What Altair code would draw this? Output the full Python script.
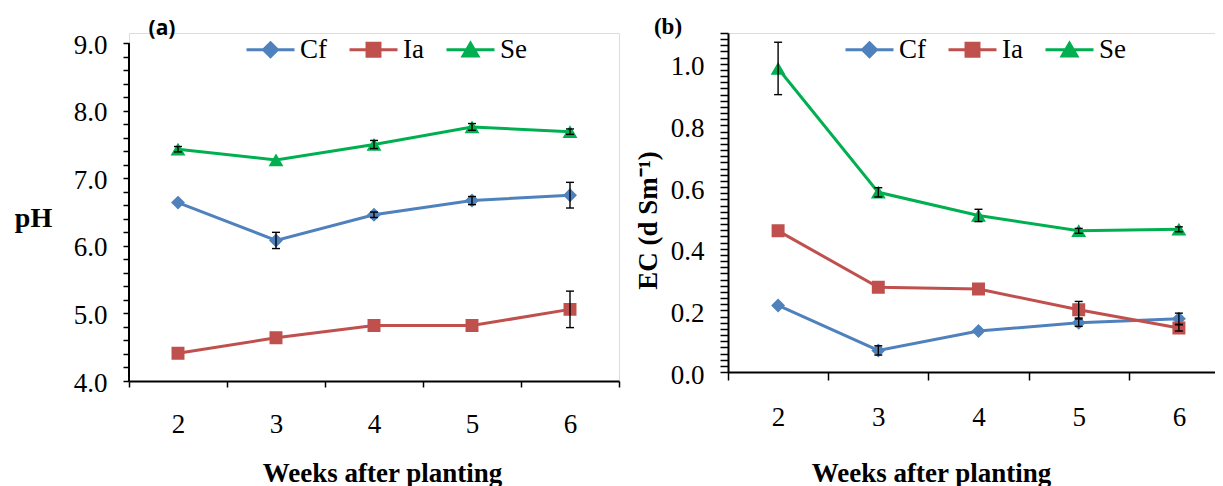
import altair as alt
import pandas as pd

weeks = [2, 3, 4, 5, 6]
series = ["Cf", "Ia", "Se"]
colors = ["#4F81BD", "#C0504D", "#00B050"]
# marker symbol = short legend line (stroked only in the legend) + filled marker
marker_paths = [
    "M-1,0L1,0M0,-0.29L0.29,0L0,0.29L-0.29,0Z",
    "M-1,0L1,0M-0.27,-0.27L0.27,-0.27L0.27,0.27L-0.27,0.27Z",
    "M-1,0L1,0M0,-0.27L0.31,0.26L-0.31,0.26Z",
]

# pH (panel a)
ph_cf = [6.64, 6.08, 6.46, 6.67, 6.75]
ph_ia = [4.41, 4.64, 4.82, 4.82, 5.06]
ph_se = [7.43, 7.27, 7.50, 7.76, 7.69]
ph_cf_err = [0.0, 0.12, 0.04, 0.06, 0.19]
ph_ia_err = [0.0, 0.0, 0.0, 0.0, 0.27]
ph_se_err = [0.04, 0.0, 0.06, 0.05, 0.04]

# EC (panel b)
ec_cf = [0.216, 0.070, 0.133, 0.160, 0.173]
ec_ia = [0.458, 0.275, 0.269, 0.202, 0.143]
ec_se = [0.985, 0.583, 0.508, 0.458, 0.463]
ec_cf_err = [0.0, 0.015, 0.0, 0.012, 0.018]
ec_ia_err = [0.0, 0.0, 0.0, 0.027, 0.01]
ec_se_err = [0.085, 0.015, 0.02, 0.008, 0.008]

x_ticks = [1.5, 2, 2.5, 3, 3.5, 4, 4.5, 5, 5.5, 6, 6.5]
ph_ticks = [round(4 + 0.2 * i, 1) for i in range(26)]
ec_ticks = [round(0.02 * i, 2) for i in range(56)]
ph_axis_span = [4.0, 9.0]
tags = ["(a)", "(b)"]

SERIF = "Liberation Serif"


def long_df(vals, errs):
    rows = []
    for s, vl, el in zip(series, vals, errs):
        for w, v, e in zip(weeks, vl, el):
            rows.append({"week": w, "series": s, "value": v,
                         "lo": v - e, "hi": v + e, "err": e})
    return pd.DataFrame(rows)


df_ph = long_df([ph_cf, ph_ia, ph_se], [ph_cf_err, ph_ia_err, ph_se_err])
df_ec = long_df([ec_cf, ec_ia, ec_se], [ec_cf_err, ec_ia_err, ec_se_err])


def x_axis(title_x, title_y, tick_size):
    return alt.Axis(
        values=x_ticks,
        labelExpr="datum.value % 1 === 0 ? '' + datum.value : ''",
        tickOpacity={"condition": {"test": "datum.value % 1 === 0", "value": 0}, "value": 1},
        tickSize=tick_size, tickWidth=1.5, tickColor="black",
        domainColor="black", domainWidth=2,
        labelFont=SERIF, labelFontSize=27, labelColor="black",
        labelPadding=24, labelOverlap=False, labelFlush=False,
        title="Weeks after planting", titleFont=SERIF, titleFontSize=27,
        titleFontWeight="bold", titleColor="black",
        titleX=title_x, titleY=title_y, titleAlign="center",
        titleBaseline="alphabetic", grid=False,
    )


def legend():
    return alt.Legend(
        title=None, orient="none", legendX=116, legendY=-9,
        direction="horizontal", symbolSize=2304, symbolStrokeWidth=3,
        labelFont=SERIF, labelFontSize=27, labelColor="black",
        labelOffset=4, columnPadding=16,
    )


def panel(df, ydomain, width, height, y_axis, xa, tag, tag_font, tag_size,
          tag_x, tag_y, axis_rule=None):
    xs = alt.Scale(domain=[1.5, 6.5], nice=False, zero=False)
    ys = alt.Scale(domain=ydomain, nice=False, zero=False)
    cs = alt.Scale(domain=series, range=colors)
    X = alt.X("week:Q", scale=xs, axis=xa)
    base = alt.Chart(df)
    layers = []
    if axis_rule is not None:
        layers.append(
            alt.Chart(pd.DataFrame({"lo": [axis_rule[0]], "hi": [axis_rule[1]]}))
            .mark_rule(color="black", strokeWidth=2)
            .encode(x=alt.value(0), y=alt.Y("lo:Q", scale=ys, axis=y_axis), y2="hi:Q")
        )
    leg = legend()
    layers.append(
        base.mark_line(strokeWidth=3).encode(
            x=X, y=alt.Y("value:Q", scale=ys, axis=y_axis),
            color=alt.Color("series:N", scale=cs, legend=leg),
        )
    )
    layers.append(
        base.mark_point(filled=True, size=2304, opacity=1).encode(
            x=X, y=alt.Y("value:Q", scale=ys, axis=y_axis),
            shape=alt.Shape("series:N", scale=alt.Scale(domain=series, range=marker_paths), legend=leg),
            color=alt.Color("series:N", scale=cs, legend=leg),
            strokeWidth=alt.value(0),
        )
    )
    eb = base.transform_filter(alt.datum.err > 0)
    layers.append(
        eb.mark_rule(color="black", strokeWidth=1.4).encode(
            x=X, y=alt.Y("lo:Q", scale=ys, axis=y_axis), y2="hi:Q")
    )
    for col in ["lo", "hi"]:
        layers.append(
            eb.mark_tick(orient="horizontal", size=8, thickness=1.4,
                         color="black", opacity=1)
            .encode(x=X, y=alt.Y(f"{col}:Q", scale=ys, axis=y_axis))
        )
    layers.append(
        alt.Chart(alt.Data(values=[{"tag": tag}]))
        .mark_text(font=tag_font, fontSize=tag_size, fontWeight="bold",
                   align="center", baseline="middle", color="black")
        .encode(x=alt.value(tag_x), y=alt.value(tag_y), text="tag:N")
    )
    return alt.layer(*layers).properties(width=width, height=height)


y_axis_ph = alt.Axis(
    values=ph_ticks,
    labelExpr="datum.value % 1 === 0 ? format(datum.value, '.1f') : ''",
    domain=False, tickSize=6, tickWidth=1.5, tickColor="black",
    labelFont=SERIF, labelFontSize=27, labelColor="black",
    labelPadding=16, labelOffset=2, labelOverlap=False, labelFlush=False,
    title="pH", titleFont=SERIF, titleFontSize=28, titleFontWeight="bold",
    titleColor="black", titleAngle=0, titleX=-96, titleY=185,
    titleAlign="center", titleBaseline="middle", grid=False,
)

y_axis_ec = alt.Axis(
    values=ec_ticks,
    labelExpr="abs(datum.value * 5 - round(datum.value * 5)) < 1e-6 ? format(datum.value, '.1f') : ''",
    domainColor="black", domainWidth=2,
    tickSize=8, tickWidth=1.5, tickColor="black",
    labelFont=SERIF, labelFontSize=27, labelColor="black",
    labelPadding=16, labelOffset=3, labelOverlap=False, labelFlush=False,
    title="EC (d Sm⁻¹)", titleFont=SERIF, titleFontSize=27, titleFontWeight="bold",
    titleColor="black", titleAngle=270, titleX=-80, titleY=187,
    titleAlign="center", titleBaseline="middle", grid=False,
)

left = panel(df_ph, [4.0, 9.15], 490, 348, y_axis_ph, x_axis(253, 100, 6),
             tags[0], "Open Sans", 21, 33, -4, axis_rule=ph_axis_span)
right = panel(df_ec, [0.0, 1.1], 501, 339, y_axis_ec, x_axis(203, 109, 8),
              tags[1], SERIF, 23, -60, -6)

chart = (
    alt.hconcat(left, right, spacing=109, bounds="flush")
    .resolve_scale(x="independent", y="independent", color="independent",
                   shape="independent")
    .resolve_legend(color="independent", shape="independent")
    .properties(
        autosize=alt.AutoSizeParams(type="none"),
        padding={"left": 121, "top": 25, "right": 1086, "bottom": 453},
    )
    .configure_view(stroke=None)
    .configure(background="white")
)

chart.save("out.html", embed_options={"renderer": "svg", "actions": False})
